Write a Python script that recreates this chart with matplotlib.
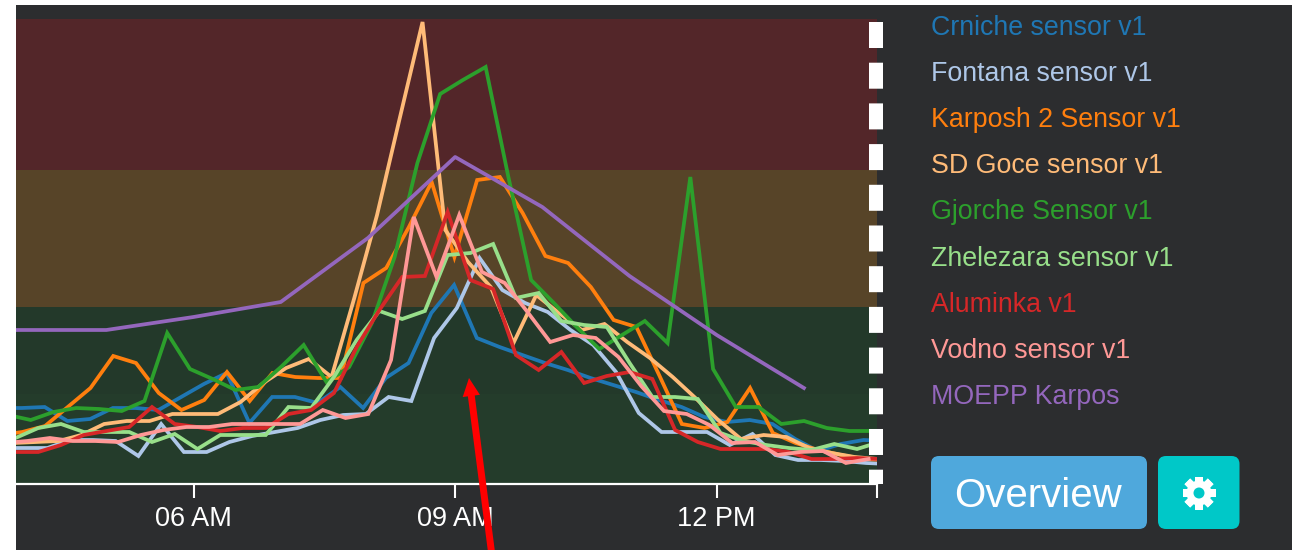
import matplotlib
matplotlib.use("Agg")
import pandas as pd
from matplotlib import pyplot as plt
from matplotlib.patches import Circle, FancyBboxPatch, Rectangle
from matplotlib.transforms import Affine2D

W, H = 1294, 550
SAMPLE_FREQ = "939s"
DAY = "2018-01-15 "

names = ["Crniche sensor v1", "Fontana sensor v1", "Karposh 2 Sensor v1", "SD Goce sensor v1",
         "Gjorche Sensor v1", "Zhelezara sensor v1", "Aluminka v1", "Vodno sensor v1", "MOEPP Karpos"]
colors = ["#1f77b4", "#aec7e8", "#ff7f0e", "#ffbb78", "#2ca02c", "#98df8a", "#d62728", "#ff9896", "#9467bd"]
starts = ["03:46:16", "03:48:10", "03:46:30", "03:55:52", "03:52:20", "03:57:30", "03:57:30", "03:49:50"]

crniche = [76, 76, 77, 63, 65, 76, 76, 74, 87, 100, 111, 61, 87, 87, 81, 97, 76, 106, 121, 171,
           199, 146, 137, 129, 121, 114, 106, 99, 92, 84, 77, 67, 62, 64, 60, 45, 33, 40, 44, 43]
fontana = [36, 36, 36, 44, 44, 43, 28, 60, 32, 32, 42, 48, 52, 56, 64, 69, 70, 87, 83, 146,
           176, 226, 194, 181, 172, 154, 139, 112, 71, 52, 52, 52, 39, 50, 29, 24, 24, 23, 21, 20]
karposh = [49, 52, 58, 77, 96, 128, 121, 91, 74, 84, 112, 83, 111, 107, 106, 106, 201, 216,
           257, 302, 227, 304, 307, 271, 228, 221, 197, 164, 157, 109, 60, 56, 62, 96, 51, 41, 34, 29, 25, 24]
sd_goce = [41, 42, 43, 49, 60, 63, 63, 70, 70, 70, 82, 101, 116, 125, 107, 186, 269, 366, 462,
           254, 222, 197, 141, 189, 171, 154, 160, 142, 126, 107, 86, 64, 45, 49, 47, 36, 31, 27, 25]
gjorche = [69, 64, 72, 76, 75, 73, 83, 151, 115, 105, 94, 97, 117, 139, 102, 117, 161, 227, 321,
           390, 404, 417, 307, 204, 181, 157, 135, 149, 163, 141, 307, 115, 77, 77, 60, 63, 56, 53, 53, 53]
zhelezara = [46, 56, 60, 52, 52, 52, 42, 50, 35, 49, 49, 49, 77, 76, 107, 144, 173, 165, 173,
             229, 231, 240, 186, 191, 163, 159, 157, 121, 87, 87, 85, 51, 43, 39, 36, 34, 40, 35, 42]
aluminka = [32, 32, 39, 49, 53, 57, 77, 60, 57, 53, 56, 56, 70, 74, 91, 137, 174, 207, 208,
            272, 204, 195, 129, 114, 132, 101, 108, 112, 105, 54, 42, 35, 35, 35, 32, 25, 25, 26, 25]
vodno = [41, 43, 46, 43, 43, 42, 49, 54, 57, 57, 60, 60, 60, 60, 74, 66, 70, 124, 267, 207, 269,
         212, 201, 172, 142, 149, 146, 127, 98, 73, 70, 59, 41, 42, 29, 32, 33, 21, 25]
moepp_hours = ["03:00:00", "04:00:00", "05:00:00", "06:00:00", "07:00:00", "08:00:00",
               "09:00:00", "10:00:00", "11:00:00", "12:00:00", "13:00:00"]
moepp = [154, 154, 154, 167, 182, 246, 327, 277, 208, 149, 96]

band_edges = [0, 90, 177, 314, 465]
band_colors = ["#243c2b", "#23392a", "#574428", "#532629"]
tick_hours = ["06:00:00", "09:00:00", "12:00:00", "13:50:17"]
tick_labels = ["06 AM", "09 AM", "12 PM", ""]


fig = plt.figure(figsize=(W / 100, H / 100), dpi=100, facecolor="white")
plt.rcParams["font.family"] = ["Liberation Sans", "DejaVu Sans"]

# dark page behind everything
fig.patches.append(Rectangle((16 / W, 0), 1276 / W, 1 - 5 / H, transform=fig.transFigure,
                             facecolor="#2c2d2f", edgecolor="none", zorder=-5))

ax = fig.add_axes([16 / W, (H - 484) / H, 861 / W, 465 / H])
ax.patch.set_alpha(0)

for low, high, color in zip(band_edges[:-1], band_edges[1:], band_colors):
    ax.axhspan(low, high, facecolor=color, edgecolor="none", zorder=0)

sensors = [crniche, fontana, karposh, sd_goce, gjorche, zhelezara, aluminka, vodno]
for values, start, color in zip(sensors, starts, colors):
    ts = pd.date_range(DAY + start, periods=len(values), freq=SAMPLE_FREQ)
    ax.plot(ts, values, color=color, linewidth=2.7, solid_joinstyle="miter", zorder=2)
ax.plot(pd.to_datetime([DAY + h for h in moepp_hours]), moepp, color=colors[8], linewidth=2.7, zorder=2)

ax.set_xlim(pd.Timestamp(DAY + "03:57:50"), pd.Timestamp(DAY + "13:50:17"))
ax.set_ylim(0, 465)

# thick dashed white rule on the right
ax.plot([pd.Timestamp(DAY + "13:49:30")] * 2, [462, 0], color="white", linewidth=10.08,
        linestyle=(0, (1.857, 1.05)), dash_capstyle="butt", clip_on=False, zorder=4)

for side in ["top", "left", "right"]:
    ax.spines[side].set_visible(False)
ax.spines["bottom"].set_color("white")
ax.spines["bottom"].set_linewidth(1.6)
ax.set_yticks([])
ax.set_xticks(pd.to_datetime([DAY + h for h in tick_hours]))
ax.set_xticklabels(tick_labels)
ax.tick_params(axis="x", colors="white", length=10, width=1.5, pad=5.7, labelsize=19.5)

# sensor names
for i, (name, color) in enumerate(zip(names, colors)):
    fig.text(931 / W, 1 - (28 + 46.1 * i) / H, name, color=color, fontsize=19.3, ha="left", va="center")

# buttons
fig.patches.append(FancyBboxPatch((939, H - 521), 200, 57, boxstyle="round,pad=8,rounding_size=8",
                                  transform=None, facecolor="#4fa8dc", edgecolor="none", zorder=3))
fig.patches.append(FancyBboxPatch((1166, H - 521), 65.5, 57, boxstyle="round,pad=8,rounding_size=8",
                                  transform=None, facecolor="#00c8c8", edgecolor="none", zorder=3))
fig.text(1038.5 / W, 1 - 496 / H, "Overview", color="white", fontsize=29, ha="center", va="center", zorder=5)

# gear icon
gear_x, gear_y = 1199, H - 493
for angle in range(0, 360, 45):
    tooth = Rectangle((gear_x - 4, gear_y - 16.5), 8, 33, facecolor="white", edgecolor="none", zorder=5,
                      transform=Affine2D().rotate_deg_around(gear_x, gear_y, angle))
    fig.patches.append(tooth)
fig.patches.append(Circle((gear_x, gear_y), 12.5, transform=None, facecolor="white", edgecolor="none", zorder=5))
fig.patches.append(Circle((gear_x, gear_y), 5.5, transform=None, facecolor="#00c8c8", edgecolor="none", zorder=6))

# red arrow pasted over the chart
ax.annotate("", xy=(469, H - 378), xycoords="figure pixels", xytext=(492, -6), textcoords="figure pixels",
            arrowprops=dict(facecolor="#ff0000", edgecolor="none", width=5, headwidth=12.5, headlength=13, shrink=0),
            annotation_clip=False, zorder=6)

fig.savefig("out.png", dpi=100, facecolor="white")
